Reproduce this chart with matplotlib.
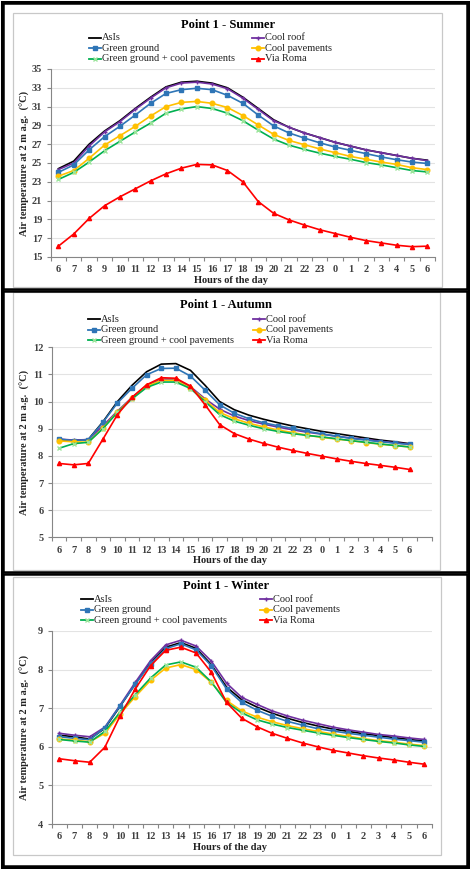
import matplotlib
matplotlib.use("Agg")
import matplotlib.pyplot as plt
from matplotlib.lines import Line2D
from matplotlib.patches import Rectangle
import numpy as np

W, H = 470, 869

hours = ["6", "7", "8", "9", "10", "11", "12", "13", "14", "15", "16", "17", "18",
         "19", "20", "21", "22", "23", "0", "1", "2", "3", "4", "5", "6"]

series_names = ["AsIs", "Cool roof", "Green ground", "Cool pavements",
                "Green ground + cool pavements", "Via Roma"]

# summer (°C)
summer_asis = [24.4, 25.2, 27.0, 28.4, 29.5, 30.8, 32.0, 33.1, 33.6, 33.7, 33.5, 33.0, 32.0,
               30.8, 29.6, 28.8, 28.2, 27.7, 27.2, 26.8, 26.4, 26.1, 25.8, 25.5, 25.3]
summer_roof = [24.3, 25.0, 26.8, 28.3, 29.4, 30.7, 31.9, 33.0, 33.5, 33.6, 33.4, 32.9, 31.9,
               30.7, 29.5, 28.8, 28.2, 27.7, 27.2, 26.8, 26.4, 26.1, 25.8, 25.5, 25.25]
summer_green = [24.0, 24.8, 26.4, 27.8, 28.9, 30.1, 31.35, 32.4, 32.8, 32.95, 32.8, 32.2, 31.35,
                30.1, 28.95, 28.2, 27.65, 27.15, 26.7, 26.35, 26.0, 25.65, 25.35, 25.1, 24.95]
summer_pave = [23.6, 24.2, 25.5, 26.9, 27.9, 28.9, 30.0, 31.0, 31.45, 31.55, 31.35, 30.9, 30.05,
               29.05, 28.05, 27.4, 26.95, 26.5, 26.1, 25.7, 25.4, 25.1, 24.85, 24.5, 24.3]
summer_gpave = [23.25, 24.0, 25.1, 26.3, 27.3, 28.3, 29.25, 30.3, 30.75, 31.0, 30.8, 30.3, 29.5,
                28.5, 27.55, 26.9, 26.45, 26.05, 25.7, 25.4, 25.05, 24.8, 24.5, 24.2, 24.05]
summer_roma = [16.15, 17.45, 19.1, 20.45, 21.4, 22.25, 23.1, 23.85, 24.45, 24.85, 24.8, 24.2, 23.0,
               20.9, 19.65, 18.95, 18.4, 17.9, 17.5, 17.1, 16.75, 16.5, 16.25, 16.1, 16.15]

# autumn (°C)
autumn_asis = [8.6, 8.57, 8.6, 9.25, 10.0, 10.6, 11.1, 11.38, 11.4, 11.15, 10.6, 10.0, 9.7,
               9.5, 9.35, 9.22, 9.1, 9.0, 8.9, 8.82, 8.74, 8.66, 8.58, 8.52, 8.45]
autumn_roof = [8.62, 8.58, 8.6, 9.1, 9.65, 10.15, 10.6, 10.83, 10.83, 10.55, 10.1, 9.72, 9.47,
               9.3, 9.17, 9.06, 8.96, 8.87, 8.8, 8.72, 8.66, 8.6, 8.54, 8.48, 8.43]
autumn_green = [8.62, 8.56, 8.59, 9.23, 9.95, 10.49, 10.99, 11.22, 11.23, 10.94, 10.42, 9.88, 9.57,
                9.37, 9.22, 9.11, 9.01, 8.9, 8.81, 8.73, 8.64, 8.58, 8.52, 8.47, 8.42]
autumn_pave = [8.55, 8.52, 8.5, 9.02, 9.62, 10.12, 10.56, 10.78, 10.78, 10.5, 10.06, 9.6, 9.37,
               9.2, 9.07, 8.95, 8.86, 8.76, 8.68, 8.62, 8.56, 8.49, 8.43, 8.38, 8.33]
autumn_gpave = [8.28, 8.45, 8.5, 9.0, 9.6, 10.1, 10.52, 10.72, 10.72, 10.48, 10.0, 9.52, 9.28,
                9.13, 9.0, 8.9, 8.82, 8.75, 8.7, 8.63, 8.56, 8.5, 8.44, 8.38, 8.33]
autumn_roma = [7.72, 7.67, 7.72, 8.61, 9.52, 10.16, 10.62, 10.88, 10.86, 10.57, 9.88, 9.15, 8.82,
               8.62, 8.46, 8.32, 8.2, 8.09, 7.99, 7.89, 7.8, 7.72, 7.65, 7.58, 7.5]

# winter (°C)
winter_asis = [6.3, 6.26, 6.2, 6.48, 7.05, 7.63, 8.18, 8.58, 8.7, 8.55, 8.13, 7.55, 7.22,
               7.03, 6.87, 6.74, 6.63, 6.54, 6.46, 6.4, 6.34, 6.29, 6.24, 6.19, 6.15]
winter_roof = [6.35, 6.3, 6.26, 6.51, 7.08, 7.67, 8.23, 8.64, 8.76, 8.61, 8.22, 7.65, 7.28,
               7.1, 6.93, 6.8, 6.69, 6.6, 6.51, 6.44, 6.38, 6.32, 6.28, 6.23, 6.19]
winter_green = [6.26, 6.22, 6.18, 6.5, 7.06, 7.62, 8.15, 8.54, 8.67, 8.51, 8.1, 7.5, 7.15,
                6.95, 6.79, 6.66, 6.56, 6.47, 6.41, 6.35, 6.3, 6.25, 6.2, 6.16, 6.12]
winter_pave = [6.2, 6.17, 6.13, 6.35, 6.85, 7.3, 7.72, 8.04, 8.13, 8.0, 7.67, 7.2, 6.93,
               6.77, 6.65, 6.55, 6.47, 6.4, 6.33, 6.27, 6.21, 6.16, 6.12, 6.07, 6.03]
winter_gpave = [6.19, 6.15, 6.12, 6.4, 6.9, 7.35, 7.78, 8.12, 8.2, 8.06, 7.68, 7.15, 6.88,
                6.7, 6.59, 6.5, 6.43, 6.36, 6.3, 6.24, 6.19, 6.14, 6.1, 6.05, 6.01]
winter_roma = [5.69, 5.64, 5.6, 5.99, 6.8, 7.5, 8.1, 8.5, 8.58, 8.43, 7.93, 7.15, 6.74,
               6.52, 6.35, 6.22, 6.1, 6.0, 5.91, 5.84, 5.77, 5.71, 5.66, 5.6, 5.55]

# style per series: line colour, marker, marker face, marker size
styles = [
    ("black", None, "black", 0),
    ("#7030A0", "+", "#7030A0", 3.5),
    ("#2E75B6", "s", "#2E75B6", 3.3),
    ("#FFC000", "o", "#FFC000", 3.3),
    ("#00B050", "x", "#9BE59B", 3.0),
    ("#FF0000", "^", "#FF0000", 3.0),
]

SERIF = ["Liberation Serif", "DejaVu Serif"]
TICK_COL = "#404040"


def px_rect(left, right, top, bottom):
    return [left / W, 1 - bottom / H, (right - left) / W, (bottom - top) / H]


def fx(x):
    return x / W


def fy(y):
    return 1 - y / H


def draw_panel(fig, data, title, rect, ylim, ystep, ncat, title_xy, leg_rows, leg_cols):
    ax = fig.add_axes(px_rect(*rect))
    x = np.arange(len(hours))
    for vals, (col, mk, mfc, ms) in zip(data, styles):
        ax.plot(x, vals, color=col, lw=1.2, marker=mk, markersize=ms,
                markerfacecolor=mfc, markeredgecolor=mfc, mew=1.0, zorder=3)
    ax.set_xlim(-0.5, ncat - 0.5)
    ax.set_ylim(*ylim)
    ax.set_yticks(np.arange(ylim[0], ylim[1] + 0.01, ystep))
    ax.set_xticks(x)
    ax.set_xticklabels(hours)
    ax.set_xticks(np.arange(-0.5, ncat, 1.0), minor=True)
    ax.tick_params(axis="x", which="major", length=0, pad=6)
    ax.tick_params(axis="x", which="minor", length=3, color="#868686", width=0.8)
    ax.tick_params(axis="y", length=3, color="#868686", width=0.8, pad=3)
    for lab in ax.get_xticklabels() + ax.get_yticklabels():
        lab.set_fontfamily(SERIF)
        lab.set_fontweight("bold")
        lab.set_fontsize(7.5)
        lab.set_color(TICK_COL)
    ax.grid(axis="y", color="#E3E3E3", lw=0.8)
    ax.set_axisbelow(True)
    for s in ["top", "right"]:
        ax.spines[s].set_visible(False)
    for s in ["left", "bottom"]:
        ax.spines[s].set_color("#868686")
        ax.spines[s].set_linewidth(0.8)
    ax.set_facecolor("none")

    left, right, top, bottom = rect
    fig.text(fx(title_xy[0]), fy(title_xy[1]), title, ha="center", va="center",
             fontsize=9, fontweight="bold", family=SERIF)
    fig.text(fx((left + right) / 2 - 12), fy(bottom + 23), "Hours of the day",
             ha="center", va="center", fontsize=7.5, fontweight="bold", family=SERIF,
             color="#222222")
    fig.text(fx(25), fy((top + bottom) / 2), "Air temperature at 2 m a.g.  (°C)",
             ha="center", va="center", rotation=90, fontsize=7.5, fontweight="bold",
             family=SERIF, color="#222222")

    # legend in two columns
    for k, (name, (col, mk, mfc, ms)) in enumerate(zip(series_names, styles)):
        row, c = k // 2, k % 2
        x0 = leg_cols[c]
        yy = leg_rows[row]
        fig.add_artist(Line2D([fx(x0), fx(x0 + 12)], [fy(yy), fy(yy)], color=col,
                              lw=1.3, transform=fig.transFigure))
        if mk:
            fig.add_artist(Line2D([fx(x0 + 6)], [fy(yy)], marker=mk, markersize=ms,
                                  color=mfc, markerfacecolor=mfc, markeredgecolor=mfc,
                                  mew=1.0, transform=fig.transFigure))
        fig.text(fx(x0 + 13), fy(yy), name, ha="left", va="center", fontsize=7.5,
                 family=SERIF, color="#222222")
    return ax


fig = plt.figure(figsize=(W / 100, H / 100), dpi=100)
fig.patch.set_facecolor("white")

# panel frames
for (t, b, gl, gr, gt, gb) in [(3, 289, 13, 442, 13, 287),
                               (291, 572, 13, 440, 292, 570),
                               (574, 866, 13, 441, 577, 855)]:
    fig.add_artist(Rectangle((fx(gl), fy(gb)), (gr - gl) / W, (gb - gt) / H,
                             fill=False, ec="#C8C8C8", lw=0.9, transform=fig.transFigure))
    fig.add_artist(Rectangle((fx(3), fy(b)), 464 / W, (b - t) / H, fill=False,
                             ec="black", lw=1.8, transform=fig.transFigure))
fig.add_artist(Rectangle((fx(1.5), fy(867.5)), 467 / W, 866 / H, fill=False,
                         ec="black", lw=2.2, transform=fig.transFigure))

draw_panel(fig,
           [summer_asis, summer_roof, summer_green, summer_pave, summer_gpave, summer_roma],
           "Point 1 - Summer", (50.7, 435, 69, 257), (15, 35), 2, 25,
           (228, 25), (37.7, 48.3, 58.7), (89, 252))
draw_panel(fig,
           [autumn_asis, autumn_roof, autumn_green, autumn_pave, autumn_gpave, autumn_roma],
           "Point 1 - Autumn", (51.7, 431.5, 347.3, 537.3), (5, 12), 1, 26,
           (226, 305), (319.3, 330, 340.3), (88, 253))
draw_panel(fig,
           [winter_asis, winter_roof, winter_green, winter_pave, winter_gpave, winter_roma],
           "Point 1 - Winter", (51.7, 431.7, 631, 824), (4, 9), 1, 25,
           (226, 585.7), (599.3, 610, 620.3), (81, 260))

fig.savefig("out.png", dpi=100)
